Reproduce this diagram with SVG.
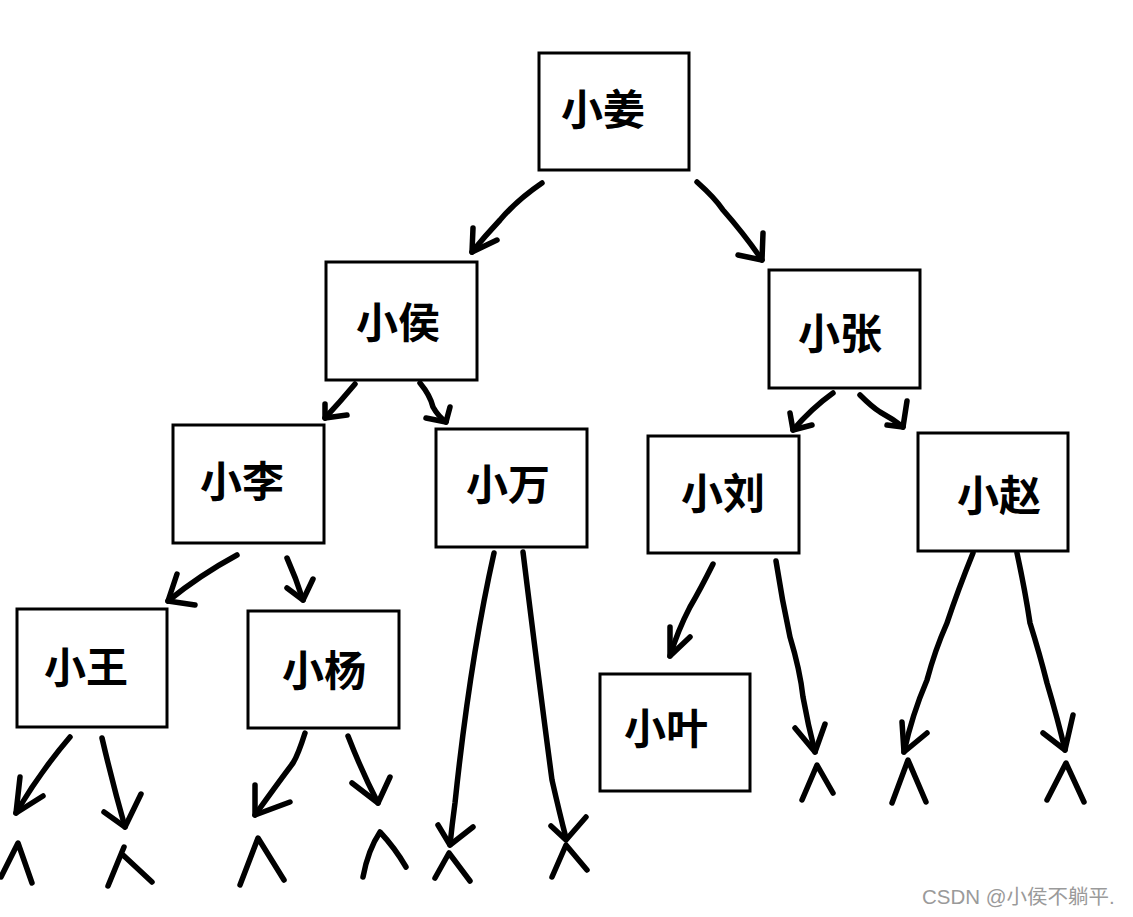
<svg xmlns="http://www.w3.org/2000/svg" width="1133" height="917" viewBox="0 0 1133 917">
<style>
.box{fill:#fff;stroke:#000;stroke-width:3}
.lbl{font-family:"Noto Sans CJK SC","Noto Sans CJK JP",sans-serif;font-size:42px;font-weight:700;text-anchor:middle;fill:#000}
.ln{fill:none;stroke:#000;stroke-width:5.5;stroke-linecap:round;stroke-linejoin:round}
.wm{font-family:"Liberation Sans","Noto Sans CJK SC",sans-serif;font-size:20.5px;fill:#9a9a9a}
</style>
<rect width="1133" height="917" fill="#fff"/>
<g id="connectors">
  <!-- 小姜 -> 小侯 -->
  <path class="ln" d="M542,183 Q517,200 500,220 Q485,236 472,252"/>
  <path class="ln" d="M473,228 L472,252 L497,240"/>
  <!-- 小姜 -> 小张 -->
  <path class="ln" d="M697,182 Q715,198 723,210 Q745,235 762,260"/>
  <path class="ln" d="M738,255 L762,260 L763,233"/>
  <!-- 小侯 -> 小李 -->
  <path class="ln" d="M355,384 Q340,402 325,418"/>
  <path class="ln" d="M325,404 L325,418 L347,415"/>
  <!-- 小侯 -> 小万 -->
  <path class="ln" d="M420,383 Q430,395 433,407 Q438,416 446,422"/>
  <path class="ln" d="M426,418 L446,422 L450,407"/>
  <!-- 小张 -> 小刘 -->
  <path class="ln" d="M833,393 Q812,408 793,430"/>
  <path class="ln" d="M790,413 L793,430 L812,425"/>
  <!-- 小张 -> 小赵 -->
  <path class="ln" d="M860,395 Q872,407 880,412 Q893,419 903,427"/>
  <path class="ln" d="M887,425 L903,427 L907,401"/>
  <!-- 小李 -> 小王 -->
  <path class="ln" d="M237,555 Q200,575 168,601"/>
  <path class="ln" d="M177,574 L168,601 L195,605"/>
  <!-- 小李 -> 小杨 -->
  <path class="ln" d="M287,558 Q296,578 303,600"/>
  <path class="ln" d="M287,588 L303,600 L313,579"/>
  <!-- 小万 -> null (left) -->
  <path class="ln" d="M494,553 Q470,660 455,803 Q452,825 450,845"/>
  <path class="ln" d="M438,825 L450,845 L473,827"/>
  <!-- 小万 -> null (right) -->
  <path class="ln" d="M523,552 Q540,690 552,780 Q560,815 566,838"/>
  <path class="ln" d="M551,826 L566,840 L586,817"/>
  <!-- 小刘 -> 小叶 -->
  <path class="ln" d="M713,564 Q700,590 690,607 Q678,630 670,656"/>
  <path class="ln" d="M670,627 L670,656 L690,637"/>
  <!-- 小刘 -> null -->
  <path class="ln" d="M776,561 Q782,600 790,637 Q800,670 803,697 Q808,725 815,752"/>
  <path class="ln" d="M795,728 L815,752 L825,724"/>
  <!-- 小赵 -> null (left) -->
  <path class="ln" d="M973,553 Q958,590 947,623 Q935,650 927,680 Q912,715 904,752"/>
  <path class="ln" d="M902,722 L904,752 L927,733"/>
  <!-- 小赵 -> null (right) -->
  <path class="ln" d="M1017,553 Q1025,590 1030,623 Q1040,655 1047,683 Q1058,720 1065,750"/>
  <path class="ln" d="M1043,733 L1065,750 L1073,715"/>
  <!-- 小王 -> null (left) -->
  <path class="ln" d="M70,737 Q40,772 16,813"/>
  <path class="ln" d="M20,777 L16,813 L43,796"/>
  <!-- 小王 -> null (right) -->
  <path class="ln" d="M102,738 Q113,785 125,827"/>
  <path class="ln" d="M104,812 L125,827 L141,794"/>
  <!-- 小杨 -> null (left) -->
  <path class="ln" d="M305,733 Q298,755 293,763 Q275,787 255,815"/>
  <path class="ln" d="M255,785 L255,815 L290,802"/>
  <!-- 小杨 -> null (right) -->
  <path class="ln" d="M348,736 Q362,772 378,803"/>
  <path class="ln" d="M352,783 L378,803 L390,777"/>
</g>
<g id="nulls">
  <path class="ln" d="M1,877 L18,843 L32,883"/>
  <path class="ln" d="M108,886 L124,847 M123,855 L152,882"/>
  <path class="ln" d="M240,885 L258,838 L284,880"/>
  <path class="ln" d="M363,877 Q368,850 380,832 Q395,848 406,867"/>
  <path class="ln" d="M435,878 L449,853 L470,881"/>
  <path class="ln" d="M552,877 L566,845 L587,870"/>
  <path class="ln" d="M802,800 L817,765 L833,793"/>
  <path class="ln" d="M892,803 L908,760 L926,802"/>
  <path class="ln" d="M1047,800 L1066,763 L1084,802"/>
</g>
<g id="node-jiang"><rect class="box" x="539" y="53" width="150" height="117"/><text class="lbl" x="603" y="125">小姜</text></g>
<g id="node-hou"><rect class="box" x="326" y="262" width="151" height="118"/><text class="lbl" x="398" y="338">小侯</text></g>
<g id="node-zhang"><rect class="box" x="769" y="270" width="151" height="118"/><text class="lbl" x="840" y="349">小张</text></g>
<g id="node-li"><rect class="box" x="173" y="425" width="151" height="118"/><text class="lbl" x="242" y="497">小李</text></g>
<g id="node-wan"><rect class="box" x="436" y="429" width="151" height="118"/><text class="lbl" x="508" y="500">小万</text></g>
<g id="node-liu"><rect class="box" x="648" y="436" width="151" height="117"/><text class="lbl" x="723" y="509">小刘</text></g>
<g id="node-zhao"><rect class="box" x="918" y="433" width="150" height="118"/><text class="lbl" x="999" y="511">小赵</text></g>
<g id="node-wang"><rect class="box" x="17" y="609" width="150" height="118"/><text class="lbl" x="86" y="683">小王</text></g>
<g id="node-yang"><rect class="box" x="248" y="611" width="151" height="117"/><text class="lbl" x="324" y="686">小杨</text></g>
<g id="node-ye"><rect class="box" x="600" y="674" width="150" height="117"/><text class="lbl" x="666" y="744">小叶</text></g>
<text class="wm" x="922" y="904">CSDN @小侯不躺平.</text>
</svg>
